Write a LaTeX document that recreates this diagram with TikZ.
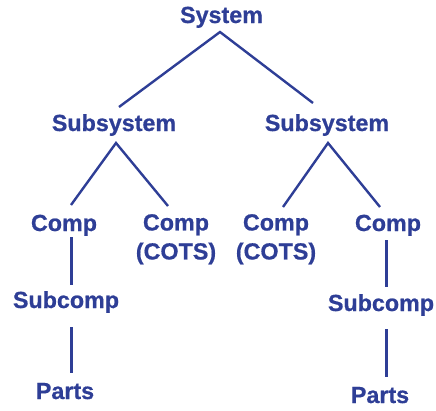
\documentclass[tikz,border=0pt]{standalone}
\usepackage{fontspec}
\setmainfont{Liberation Sans}[BoldFeatures={FakeBold=0.7}]
\definecolor{navy}{RGB}{46,62,150}
\begin{document}
\begin{tikzpicture}[x=1pt,y=1pt,
  lbl/.style={text=navy,font=\fontsize{23.3}{25}\selectfont\bfseries,inner sep=0pt,anchor=base},
  two/.style={text=navy,font=\fontsize{23.3}{29}\selectfont\bfseries,inner sep=0pt,anchor=north,align=center},
  edge/.style={draw=navy,line width=2.4pt},
  vedge/.style={draw=navy,line width=3pt}]
\useasboundingbox (0,0) rectangle (436,-410);
\node[lbl] (sys) at (221.5,-23) {System};
\node[lbl] (subL) at (114,-131) {Subsystem};
\node[lbl] (subR) at (327,-131) {Subsystem};
\node[lbl] (compL) at (64,-231) {Comp};
\node[two] (cotsL) at (176,-214) {Comp\\(COTS)};
\node[two] (cotsR) at (276,-214) {Comp\\(COTS)};
\node[lbl] (compR) at (388,-231) {Comp};
\node[lbl] (subcL) at (66,-308) {Subcomp};
\node[lbl] (subcR) at (381,-311) {Subcomp};
\node[lbl] (partsL) at (65,-399) {Parts};
\node[lbl] (partsR) at (380,-403) {Parts};
\draw[edge] ([shift={(5,24)}]subL.base) -- ([shift={(-1.5,-9)}]sys.base) -- ([shift={(-14,28)}]subR.base);
\draw[edge] ([shift={(7,26)}]compL.base) -- ([shift={(2,-12)}]subL.base) -- ([shift={(-8,8)}]cotsL.north);
\draw[edge] ([shift={(7,7)}]cotsR.north) -- ([shift={(1,-12)}]subR.base) -- ([shift={(-8,24)}]compR.base);
\draw[vedge] ([shift={(7,-6)}]compL.base) -- ([shift={(5,23)}]subcL.base);
\draw[vedge] ([shift={(5,-19)}]subcL.base) -- ([shift={(6,26)}]partsL.base);
\draw[vedge] ([shift={(-2,-9)}]compR.base) -- ([shift={(5,24)}]subcR.base);
\draw[vedge] ([shift={(5,-18)}]subcR.base) -- ([shift={(6,26)}]partsR.base);
\end{tikzpicture}
\end{document}
